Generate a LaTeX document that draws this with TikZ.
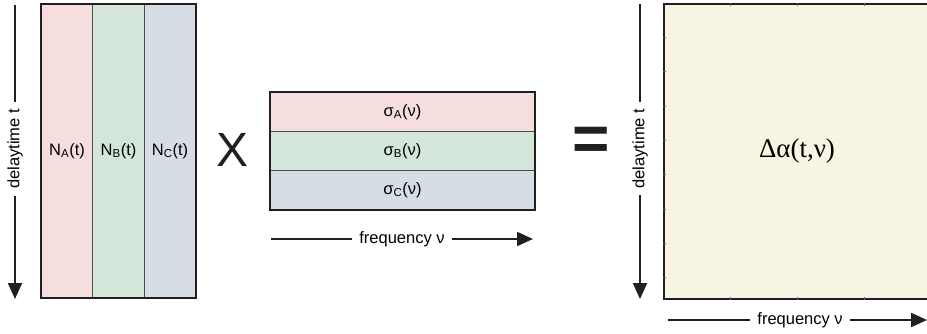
\documentclass[tikz,border=0pt]{standalone}
\usepackage{fontspec}
\setmainfont{Liberation Sans}
\newfontfamily\timesfont{Liberation Serif}
\usetikzlibrary{arrows.meta,positioning}

\definecolor{pinkA}{HTML}{F6DEDE}
\definecolor{greenB}{HTML}{D4E6D9}
\definecolor{blueC}{HTML}{D6DDE4}
\definecolor{cream}{HTML}{F8F4E3}
\definecolor{ink}{HTML}{231F20}

\newcommand{\lowidx}[1]{\textsubscript{#1}}

\tikzstyle{cell} = [draw=ink!80, line width=0.9pt, inner sep=0pt, font=\fontsize{16.5}{18}\selectfont]
\tikzstyle{frame} = [draw=ink, line width=2pt]
\tikzstyle{axis} = [draw=ink, line width=2pt, -{Triangle[length=16pt,width=14pt]}]
\tikzstyle{axislabel} = [fill=white, inner xsep=7pt, inner ysep=1pt, font=\fontsize{16.5}{18}\selectfont]
\tikzstyle{tick} = [draw=ink!70, line width=0.6pt]

\begin{document}
\begin{tikzpicture}[x=1pt, y=-1pt]
\useasboundingbox (0,0) rectangle (927,333);

% number densities
\foreach \pos/\name/\col/\lbl in {{(67,151)/colA/pinkA/A}, {(118.5,151)/colB/greenB/B}, {(170,151)/colC/blueC/C}}
\node[cell, fill=\col, minimum width=51.7pt, minimum height=294pt] (\name) at \pos {N\lowidx{\lbl}(t)};
\draw[frame] (colA.north west) rectangle (colC.south east);

% cross sections
\foreach \pos/\name/\col/\lbl in {{(402.5,111.8)/rowA/pinkA/A}, {(402.5,150.9)/rowB/greenB/B}, {(402.5,190)/rowC/blueC/C}}
\node[cell, fill=\col, minimum width=265pt, minimum height=39.1pt] (\name) at \pos {σ\lowidx{\lbl}(ν)};
\draw[frame] (rowA.north west) rectangle (rowC.south east);

% absorbance change
\node[frame, fill=cream, minimum width=266pt, minimum height=295pt, font=\timesfont\fontsize{27}{30}\selectfont] (dA) at (797,151.5) {Δα(t,ν)};
\foreach \k in {1,...,8}
{
\draw[tick] ([yshift=-34.3*\k pt]dA.north west) -- ++(3,0);
\draw[tick] ([yshift=-34.3*\k pt]dA.north east) -- ++(-3,0);
}
\foreach \k in {1,2,3,4}
{
\draw[tick] ([xshift=67*\k pt]dA.north west) -- ++(0,3);
\draw[tick] ([xshift=67*\k pt]dA.south west) -- ++(0,-3);
}

% operators
\node[font=\fontsize{48}{50}\selectfont, text=ink, inner sep=0pt] (times) at (233,150) {X};
\node[font=\bfseries\fontsize{64}{66}\selectfont, text=ink, inner sep=0pt] (equals) at (591,144) {=};

% axes
\coordinate (tA0) at (15,5);
\coordinate (tA1) at (15,299);
\coordinate (tB0) at (640,4);
\coordinate (tB1) at (640,299);
\coordinate (fA0) at (271,239);
\coordinate (fA1) at (533,239);
\coordinate (fB0) at (668,320);
\coordinate (fB1) at (927,320);
\draw[axis] (tA0) -- node[axislabel, pos=0.49, rotate=90] {delaytime t} (tA1);
\draw[axis] (tB0) -- node[axislabel, pos=0.49, rotate=90] {delaytime t} (tB1);
\draw[axis] (fA0) -- node[axislabel, pos=0.5] {frequency ν} (fA1);
\draw[axis] (fB0) -- node[axislabel, pos=0.51] {frequency ν} (fB1);
\end{tikzpicture}
\end{document}
